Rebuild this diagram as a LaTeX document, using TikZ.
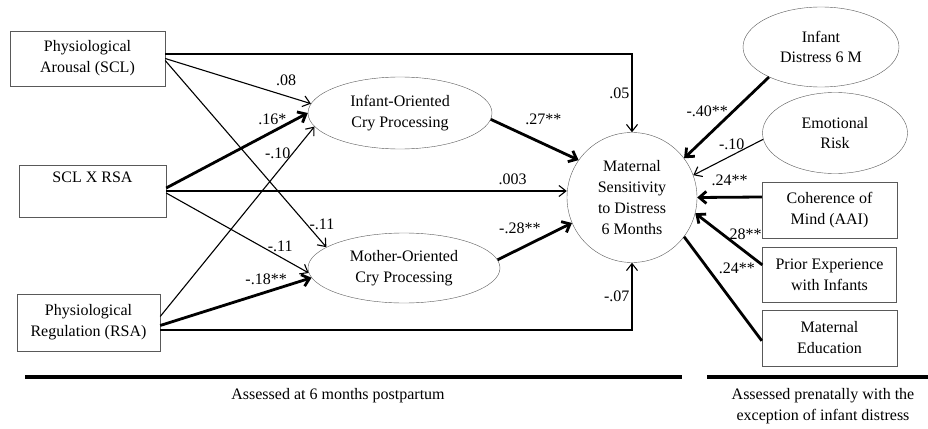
\documentclass[tikz,border=0pt]{standalone}
\usepackage{fontspec}
\setmainfont{Liberation Serif}
\usetikzlibrary{arrows.meta, positioning, shapes.geometric}

\begin{document}
\begin{tikzpicture}[x=1pt, y=1pt, inner sep=2pt,
      font=\fontsize{16}{20.7}\selectfont,
      box/.style={rectangle, draw=black!65, inner sep=0pt, align=center},
      lat/.style={ellipse, draw=black!65, inner sep=0pt, align=center},
      arr/.style={-{Straight Barb[length=7pt, width=11pt]}, line width=1.1pt},
      tarr/.style={-{Straight Barb[length=7pt, width=12pt]}, line width=2.8pt},
      tline/.style={line width=2.8pt}]
    \useasboundingbox (0,0) rectangle (928,-428);
    % predictors at 6 months
    \node[box, minimum width=155pt, minimum height=55pt] (scl) at (87.5,-58.5) {Physiological\\Arousal (SCL)};
    \node[box, minimum width=147pt, minimum height=52pt] (sxr) at (92.5,-191) {SCL X RSA\\\strut};
    \node[box, minimum width=143pt, minimum height=57pt] (rsa) at (88.5,-322.5) {Physiological\\Regulation (RSA)};
    \node[lat, minimum width=184pt, minimum height=72pt] (inf) at (400,-113) {Infant-Oriented\\Cry Processing};
    \node[lat, minimum width=192pt, minimum height=70pt] (mot) at (404,-268) {Mother-Oriented\\Cry Processing};
    \node[circle, draw=black!65, minimum size=130pt, inner sep=0pt, align=center] (ms) at (632,-197.5) {Maternal\\Sensitivity\\to Distress\\6 Months};
    % prenatal covariates
    \node[lat, minimum width=156pt, minimum height=80pt] (idst) at (821,-47) {Infant\\Distress 6 M};
    \node[lat, minimum width=145pt, minimum height=81pt] (emo) at (835,-133) {Emotional\\Risk};
    \node[box, minimum width=135pt, minimum height=56pt] (coh) at (829.5,-210) {Coherence of\\Mind (AAI)};
    \node[box, minimum width=134pt, minimum height=55pt, below=9pt of coh] (pri) {Prior Experience\\with Infants};
    \node[box, minimum width=135pt, minimum height=56pt, below=7pt of pri] (edu) {Maternal\\Education};

    \draw[arr] ([yshift=4.5pt]scl.east) -| node[pos=.75, left] {.05} (ms.north);
    \draw[arr] ([yshift=-7.5pt]rsa.east) -| node[pos=.75, left] {-.07} (ms.south);
    \draw[arr] (scl.east) -- node[pos=.83, above=8pt] {.08} (inf.174);
    \draw[arr] ([yshift=-2pt]scl.east) -- node[pos=.88, right] {-.11} (mot.165);
    \draw[tarr] ([yshift=3pt]sxr.east) -- node[pos=.75, above=4pt] {.16*} (inf.west);
    \draw[arr] (sxr.east) -- node[pos=.865, above=4pt] {.003} (sxr.east -| ms.west);
    \draw[arr] ([yshift=-2pt]sxr.east) -- node[pos=.8, above=3pt] {-.11} (mot.183);
    \draw[arr] ([yshift=6pt]rsa.east) -- node[pos=.86, left] {-.10} (inf.189);
    \draw[tarr] ([yshift=-3pt]rsa.east) -- node[pos=.7, above=4pt] {-.18**} (mot.186);
    \draw[tarr] (inf.-4) -- node[pos=.6, above=16pt] {.27**} (ms.145);
    \draw[tarr] (mot.5) -- node[pos=.3, above=12pt] {-.28**} (ms.203);
    \draw[tarr] (idst.210) -- node[pos=.42, left=2pt] {-.40**} (ms.37);
    \draw[arr] (emo.185) -- node[pos=.45, above=3pt] {-.10} (ms.20);
    \draw[tarr] ([yshift=13pt]coh.west) -- node[midway, above=8pt] {.24**} (ms.east);
    \draw[tarr] ([yshift=10pt]pri.west) -- node[pos=.28, above=7pt] {.28**} (ms.-14);
    \draw[tline] ([yshift=-3pt]edu.west) -- node[pos=.7, right=8pt] {.24**} (ms.-37);

    % time bands
    \draw[line width=3.5pt] (25,-377) -- (682,-377);
    \draw[line width=3.5pt] (707,-377) -- (928,-377);
    \node (band1) at (338,-396) {Assessed at 6 months postpartum};
    \node[align=center] (band2) at (823,-406) {Assessed prenatally with the\\exception of infant distress};
  \end{tikzpicture}
\end{document}
